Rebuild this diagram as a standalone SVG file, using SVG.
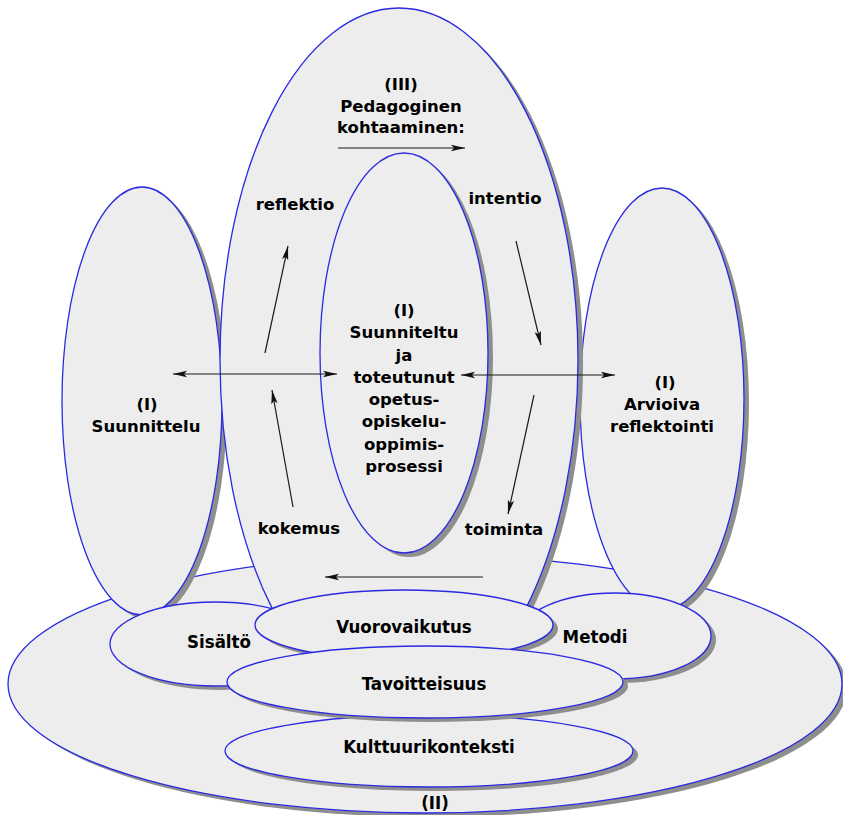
<svg xmlns="http://www.w3.org/2000/svg" width="843" height="815" viewBox="0 0 843 815">
<style>
.sh{fill:#8e8e8e;stroke:none}
.el{fill:#ededed;stroke:#2a2ae2;stroke-width:1.3}
.t{font-family:"DejaVu Sans",Verdana,sans-serif;font-weight:bold;font-size:16.5px;text-anchor:middle;fill:#000}
.c{font-family:"DejaVu Sans Condensed","DejaVu Sans",sans-serif;font-stretch:condensed;font-weight:bold;font-size:18.5px;text-anchor:middle;fill:#000}
.ar{stroke:#1a1a1a;stroke-width:1.2;fill:none}
</style>
<defs>
<marker id="ah" markerUnits="userSpaceOnUse" markerWidth="16" markerHeight="9" refX="14" refY="4" orient="auto-start-reverse" viewBox="0 0 16 9">
<path d="M0,0.8 L14,4 L0,7.2 L3,4 z" fill="#111"/>
</marker>
</defs>
<rect width="843" height="815" fill="#fff"/>

<g id="node-II">
<ellipse class="sh" cx="430" cy="688" rx="417" ry="129"/>
<ellipse class="el" cx="425" cy="684" rx="417" ry="129"/>
<text class="c" x="435" y="809">(II)</text>
</g>

<g id="node-suunnittelu">
<ellipse class="sh" cx="147" cy="405" rx="80" ry="214"/>
<ellipse class="el" cx="142" cy="401" rx="80" ry="214"/>
<text class="t" x="147" y="410">(I)</text>
<text class="t" x="146" y="432">Suunnittelu</text>
</g>

<g id="node-arvioiva">
<ellipse class="sh" cx="667" cy="403" rx="82" ry="211"/>
<ellipse class="el" cx="662" cy="399" rx="82" ry="211"/>
<text class="t" x="665" y="388">(I)</text>
<text class="t" x="662" y="410">Arvioiva</text>
<text class="t" x="662" y="432">reflektointi</text>
</g>

<g id="node-III">
<ellipse class="sh" cx="404" cy="364" rx="179" ry="352"/>
<ellipse class="el" cx="399" cy="360" rx="179" ry="352"/>
<text class="t" x="401" y="90">(III)</text>
<text class="t" x="401" y="112">Pedagoginen</text>
<text class="t" x="401" y="133">kohtaaminen:</text>
<text class="t" x="295" y="210">reflektio</text>
<text class="t" x="505" y="204">intentio</text>
<text class="t" x="299" y="534">kokemus</text>
<text class="t" x="504" y="535">toiminta</text>
</g>

<g id="node-prosessi">
<ellipse class="sh" cx="409" cy="357" rx="84" ry="200"/>
<ellipse class="el" cx="404" cy="353" rx="84" ry="200"/>
<text class="t" x="404" y="316">(I)</text>
<text class="t" x="404" y="338">Suunniteltu</text>
<text class="t" x="404" y="360.5">ja</text>
<text class="t" x="404" y="383">toteutunut</text>
<text class="t" x="404" y="405">opetus-</text>
<text class="t" x="404" y="427">opiskelu-</text>
<text class="t" x="404" y="449.5">oppimis-</text>
<text class="t" x="404" y="472">prosessi</text>
</g>

<g id="node-sisalto">
<ellipse class="sh" cx="220" cy="648" rx="105" ry="42"/>
<ellipse class="el" cx="215" cy="644" rx="105" ry="42"/>
<text class="c" x="219" y="648">Sisältö</text>
</g>

<g id="node-metodi">
<ellipse class="sh" cx="620" cy="640" rx="96" ry="43"/>
<ellipse class="el" cx="615" cy="636" rx="96" ry="43"/>
<text class="c" x="595" y="643">Metodi</text>
</g>

<g id="node-vuorovaikutus">
<ellipse class="sh" cx="409" cy="629" rx="149" ry="35"/>
<ellipse class="el" cx="404" cy="625" rx="149" ry="35"/>
<text class="c" x="404" y="633">Vuorovaikutus</text>
</g>

<g id="node-kulttuurikonteksti">
<ellipse class="sh" cx="434" cy="755" rx="204" ry="36"/>
<ellipse class="el" cx="429" cy="751" rx="204" ry="36"/>
<text class="c" x="429" y="753">Kulttuurikonteksti</text>
</g>

<g id="node-tavoitteisuus">
<ellipse class="sh" cx="430" cy="686" rx="198" ry="36"/>
<ellipse class="el" cx="425" cy="682" rx="198" ry="36"/>
<text class="c" x="424" y="690">Tavoitteisuus</text>
</g>

<g id="connectors">
<line class="ar" x1="173" y1="374" x2="337" y2="374" marker-start="url(#ah)" marker-end="url(#ah)"/>
<line class="ar" x1="461" y1="375" x2="615" y2="375" marker-start="url(#ah)" marker-end="url(#ah)"/>
<line class="ar" x1="338" y1="148" x2="465" y2="148" marker-end="url(#ah)"/>
<line class="ar" x1="265" y1="353" x2="288" y2="246" marker-end="url(#ah)"/>
<line class="ar" x1="516" y1="241" x2="541" y2="345" marker-end="url(#ah)"/>
<line class="ar" x1="534" y1="395" x2="508" y2="514" marker-end="url(#ah)"/>
<line class="ar" x1="293" y1="507" x2="272" y2="390" marker-end="url(#ah)"/>
<line class="ar" x1="483" y1="577" x2="325" y2="577" marker-end="url(#ah)"/>
</g>
</svg>
